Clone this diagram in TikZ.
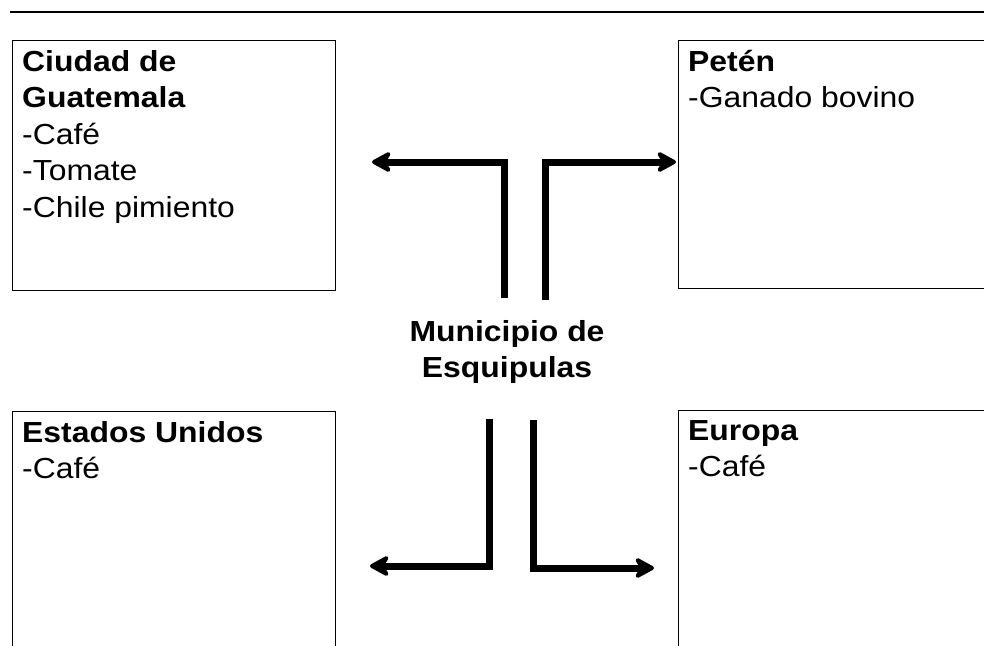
\documentclass[tikz,border=0pt]{standalone}
\usepackage{fontspec}
\setmainfont{Liberation Sans}[FakeStretch=1.1]
\usetikzlibrary{arrows.meta,positioning}

\begin{document}
\begin{tikzpicture}[x=1pt, y=-1pt,
  region/.style={draw, line width=1.2pt, rectangle, anchor=north west, inner sep=0pt},
  entries/.style={anchor=north west, align=left, inner xsep=10pt, inner ysep=10pt,
    font=\fontsize{29}{36.5}\selectfont},
  flow/.style={line width=7pt, -{Stealth[length=24pt, width=26pt, inset=8pt, round]}}]
  \useasboundingbox (0,0) rectangle (984,645);
  \draw[line width=1.5pt] (10,12) -- (984,12);
  \node[region, minimum width=323pt, minimum height=250pt] (ciudad) at (12,40) {};
  \node[region, minimum width=340pt, minimum height=248pt] (peten) at (678,40) {};
  \node[region, minimum width=323pt, minimum height=260pt] (eeuu) at (12,411) {};
  \node[region, minimum width=340pt, minimum height=260pt] (europa) at (678,410) {};
  \node[entries] (ciudadtxt) at (ciudad.north west)
    {\textbf{Ciudad de}\\\textbf{Guatemala}\\-Café\\-Tomate\\-Chile pimiento};
  \node[entries] (petentxt) at (peten.north west) {\textbf{Petén}\\-Ganado bovino};
  \node[entries] (eeuutxt) at (eeuu.north west) {\textbf{Estados Unidos}\\-Café};
  \node[entries] (europatxt) at (europa.north west) {\textbf{Europa}\\-Café};
  \node[font=\bfseries\fontsize{29}{36.5}\selectfont, align=center] (muni) at (507,352)
    {Municipio de\\Esquipulas};
  \coordinate (nwfoot) at (504,298); \coordinate (nwtip) at (372,162);
  \coordinate (nefoot) at (545,300); \coordinate (netip) at (676,162);
  \coordinate (swfoot) at (489,419); \coordinate (swtip) at (370,566);
  \coordinate (sefoot) at (533,420); \coordinate (setip) at (654,568);
  \draw[flow] (nwfoot) |- (nwtip);
  \draw[flow] (nefoot) |- (netip);
  \draw[flow] (swfoot) |- (swtip);
  \draw[flow] (sefoot) |- (setip);
\end{tikzpicture}
\end{document}
